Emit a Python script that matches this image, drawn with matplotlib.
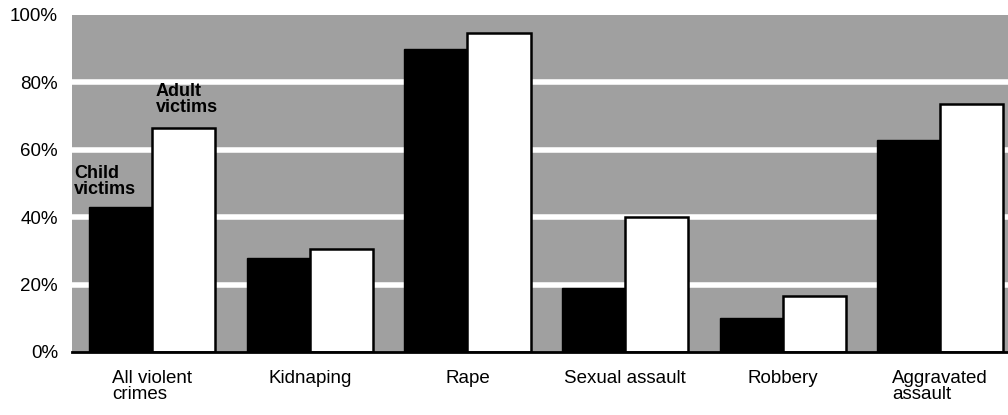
import numpy as np
import matplotlib.pyplot as plt

plt.rcParams['font.family'] = ['Liberation Sans', 'DejaVu Sans']

categories = ["All violent\ncrimes", "Kidnaping", "Rape", "Sexual assault",
              "Robbery", "Aggravated\nassault"]
child_pct = [43, 28, 90, 19, 10, 63]
adult_pct = [66.5, 30.5, 94.5, 40, 16.5, 73.5]
y_ticks = [0, 20, 40, 60, 80, 100]

fig = plt.figure(figsize=(10.08, 4.15), dpi=100)
ax = fig.add_axes([0.0714, 0.152, 0.9286, 0.812])

x = np.arange(len(categories))
w = 0.4

# stippled gray panel with white gridlines
ax.set_facecolor('#a0a0a0')
for t in y_ticks[1:-1]:
    ax.axhline(t, color='white', lw=4, zorder=1)

ax.bar(x - w / 2, child_pct, w, color='black', edgecolor='black', lw=1, zorder=2)
ax.bar(x + w / 2, adult_pct, w, color='white', edgecolor='black', lw=1.8, zorder=2)

ax.text(-0.495, 50.5, "Child\nvictims", fontsize=13, fontweight='bold',
        ha='left', va='center', linespacing=0.95, zorder=3)
ax.text(0.02, 75, "Adult\nvictims", fontsize=13, fontweight='bold',
        ha='left', va='center', linespacing=0.95, zorder=3)

ax.set_xlim(-0.51, 5.43)
ax.set_ylim(0, 100)
ax.set_yticks(y_ticks)
ax.set_yticklabels([f"{t}%" for t in y_ticks], fontsize=13.5)
ax.set_xticks(x)
ax.set_xticklabels(categories, fontsize=13.5, multialignment='left', linespacing=0.95)
ax.tick_params(axis='x', length=0, pad=13)
ax.tick_params(axis='y', length=0, pad=10)

for s in ['top', 'right', 'left']:
    ax.spines[s].set_visible(False)
ax.spines['bottom'].set_linewidth(2)
ax.spines['bottom'].set_zorder(4)

fig.savefig('out.png', dpi=100)
